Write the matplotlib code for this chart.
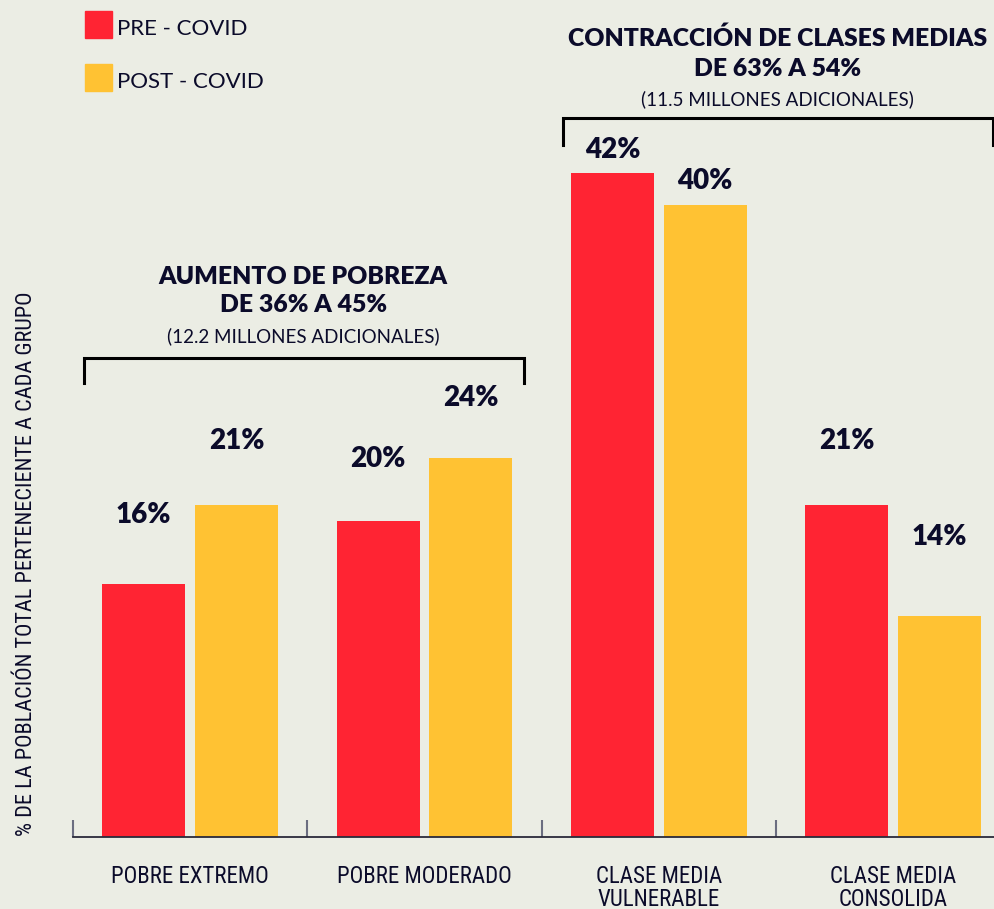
import matplotlib.pyplot as plt
import numpy as np
from matplotlib import font_manager

categories = ["POBRE EXTREMO", "POBRE MODERADO", "CLASE MEDIA\nVULNERABLE", "CLASE MEDIA\nCONSOLIDA"]
pre_covid = [16, 20, 42, 21]
post_covid = [21, 24, 40, 14]
series_names = ["PRE - COVID", "POST - COVID"]

# label offsets above each bar (data units), as in the original layout
pre_gap = [4.4, 3.9, 1.5, 4.05]
post_gap = [4.05, 3.8, 1.5, 5.0]

RED = "#FF2433"
YELLOW = "#FFC233"
BG = "#EBEDE4"
INK = "#0B0B2A"

# pick fonts that are actually installed
names = {f.name for f in font_manager.fontManager.ttflist}
head_font = "Lato" if "Lato" in names else "DejaVu Sans"
cond_font = "DejaVu Sans"
for cand in ["Roboto Condensed", "Liberation Sans Narrow", "Open Sans Condensed"]:
    if cand in names:
        cond_font = cand
        break
HEAVY = "heavy"

fig = plt.figure(figsize=(9.94, 9.09), dpi=100, facecolor=BG)
ax = fig.add_axes([73 / 994, 72 / 909, 921 / 994, 837 / 909])
ax.set_facecolor(BG)

x = np.arange(len(categories))
w = 0.354
off = 0.198
ax.bar(x - off, pre_covid, w, color=RED, zorder=1)
ax.bar(x + off, post_covid, w, color=YELLOW, zorder=1)

for i in range(len(categories)):
    ax.text(x[i] - off, pre_covid[i] + pre_gap[i], f"{pre_covid[i]}%", ha="center", va="center",
            fontsize=20, fontweight=HEAVY, family=head_font, color=INK)
    ax.text(x[i] + off, post_covid[i] + post_gap[i], f"{post_covid[i]}%", ha="center", va="center",
            fontsize=20, fontweight=HEAVY, family=head_font, color=INK)

ax.set_xlim(-0.5, 3.43)
ax.set_ylim(0, 52.97)

for s in ["top", "right", "left"]:
    ax.spines[s].set_visible(False)
ax.spines["bottom"].set_color("#2a2a3a")
ax.spines["bottom"].set_linewidth(1.3)
ax.spines["bottom"].set_zorder(3)
ax.set_yticks([])
ax.set_xticks(x)
ax.set_xticklabels(categories, family=cond_font, fontstretch="condensed", fontsize=16.5,
                   color=INK, linespacing=1.0, va="top")
ax.tick_params(axis="x", which="major", length=0, pad=20)
ax.set_xticks(np.arange(-0.5, len(categories) - 0.5, 1), minor=True)
ax.tick_params(axis="x", which="minor", direction="in", length=12, width=1.5, color="#6b6e80")

# brackets and headers
def bracket(x0, x1, ytop, ybot):
    ax.plot([x0, x0, x1, x1], [ybot, ytop, ytop, ybot], color="black", lw=2.2,
            clip_on=False, solid_joinstyle="miter")

bracket(-0.452, 1.424, 30.3, 28.7)
bracket(1.591, 3.424, 45.5, 43.8)

HEAD = 17.8
ax.text(0.482, 35.44, "AUMENTO DE POBREZA", ha="center", va="center", fontsize=HEAD,
        fontweight=HEAVY, family=head_font, color=INK)
ax.text(0.482, 33.67, "DE 36% A 45%", ha="center", va="center", fontsize=HEAD,
        fontweight=HEAVY, family=head_font, color=INK)
ax.text(0.482, 31.71, "(12.2 MILLONES ADICIONALES)", ha="center", va="center", fontsize=13.5,
        family=head_font, color=INK)

ax.text(2.507, 50.57, "CONTRACCIÓN DE CLASES MEDIAS", ha="center", va="center", fontsize=HEAD,
        fontweight=HEAVY, family=head_font, color=INK, clip_on=False)
ax.text(2.507, 48.6, "DE 63% A 54%", ha="center", va="center", fontsize=HEAD,
        fontweight=HEAVY, family=head_font, color=INK)
ax.text(2.507, 46.7, "(11.5 MILLONES ADICIONALES)", ha="center", va="center", fontsize=13.5,
        family=head_font, color=INK)

# legend
colors = [RED, YELLOW]
for k, name in enumerate(series_names):
    ybot = 1 - (38 + 53 * k) / 909
    fig.patches.append(plt.Rectangle((85 / 994, ybot), 27 / 994, 27 / 909,
                                     transform=fig.transFigure, color=colors[k]))
    fig.text(117 / 994, ybot + 3 / 909, name, ha="left", va="baseline", fontsize=16,
             family=head_font, color=INK)

fig.text(27 / 994, 1 - 564 / 909, "% DE LA POBLACIÓN TOTAL PERTENECIENTE A CADA GRUPO",
         rotation=90, ha="center", va="center", fontsize=16, family=cond_font,
         fontstretch="condensed", color=INK)

fig.savefig("out.png", dpi=100, facecolor=BG)
